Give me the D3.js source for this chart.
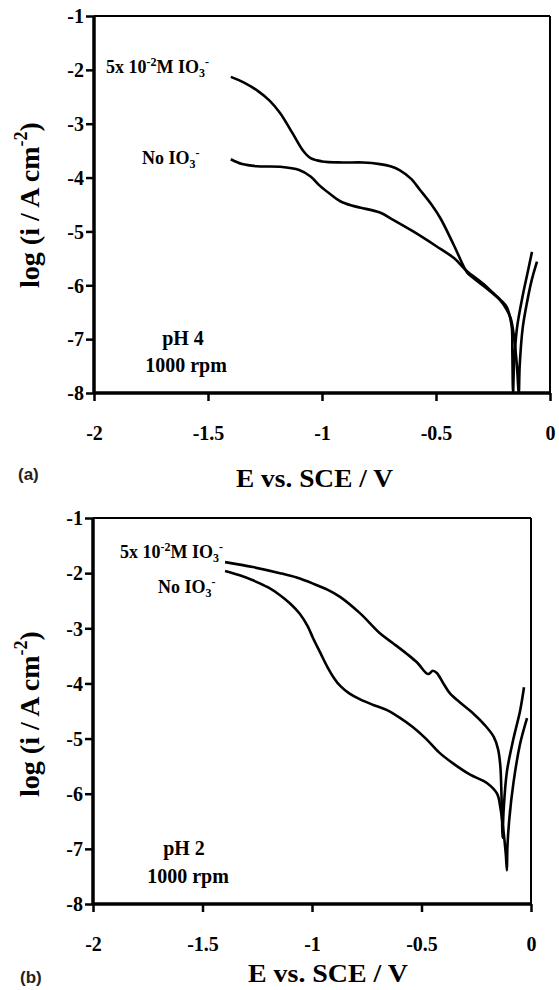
<!DOCTYPE html>
<html><head><meta charset="utf-8">
<script src="https://cdn.jsdelivr.net/npm/d3@7"></script>
<style>body{margin:0;background:#fff} text{font-family:'Liberation Serif','Times New Roman',serif;font-weight:bold;fill:#000}</style>
</head><body>
<svg id="c" width="559" height="990" xmlns="http://www.w3.org/2000/svg"></svg>
<script>
// ---- data ----
const xTicks = [-2, -1.5, -1, -0.5, 0];
const xTickLabels = ["-2", "-1.5", "-1", "-0.5", "0"];
const yTicks = [-1, -2, -3, -4, -5, -6, -7, -8];
const yTickLabels = ["-1", "-2", "-3", "-4", "-5", "-6", "-7", "-8"];

// panel (a) pH 4 : [E (V vs SCE), log i]
const pH4_iodate = [[-1.40,-2.13],[-1.34,-2.24],[-1.285,-2.38],[-1.23,-2.57],[-1.184,-2.80],[-1.13,-3.17],[-1.083,-3.50],[-1.05,-3.64],[-1.00,-3.70],[-0.91,-3.72],[-0.82,-3.72],[-0.746,-3.75],[-0.70,-3.79],[-0.66,-3.86],[-0.61,-4.02],[-0.57,-4.23],[-0.52,-4.50],[-0.48,-4.76],[-0.42,-5.27],[-0.364,-5.76],[-0.338,-5.86],[-0.28,-6.05],[-0.22,-6.27],[-0.19,-6.45],[-0.172,-6.62],[-0.158,-6.95],[-0.145,-7.5],[-0.137,-8.0],[-0.133,-7.5],[-0.12,-6.8],[-0.10,-6.3],[-0.08,-5.9],[-0.057,-5.56]];
const pH4_none = [[-1.40,-3.66],[-1.35,-3.75],[-1.285,-3.79],[-1.184,-3.80],[-1.10,-3.86],[-1.05,-3.98],[-1.01,-4.15],[-0.96,-4.32],[-0.92,-4.44],[-0.87,-4.52],[-0.83,-4.56],[-0.746,-4.65],[-0.69,-4.78],[-0.60,-5.00],[-0.50,-5.27],[-0.42,-5.50],[-0.364,-5.74],[-0.30,-5.95],[-0.25,-6.14],[-0.21,-6.30],[-0.19,-6.40],[-0.175,-6.60],[-0.167,-6.80],[-0.165,-7.3],[-0.162,-8.0],[-0.158,-7.5],[-0.145,-6.8],[-0.12,-6.2],[-0.10,-5.8],[-0.079,-5.38]];

// panel (b) pH 2
const pH2_iodate = [[-1.397,-1.80],[-1.27,-1.89],[-1.146,-2.00],[-1.07,-2.08],[-0.995,-2.19],[-0.93,-2.30],[-0.872,-2.43],[-0.78,-2.73],[-0.69,-3.09],[-0.63,-3.27],[-0.568,-3.46],[-0.52,-3.62],[-0.47,-3.83],[-0.448,-3.77],[-0.43,-3.81],[-0.40,-4.00],[-0.37,-4.18],[-0.32,-4.36],[-0.265,-4.54],[-0.21,-4.76],[-0.17,-4.97],[-0.15,-5.20],[-0.14,-5.50],[-0.135,-6.00],[-0.132,-6.50],[-0.13,-6.80],[-0.125,-6.30],[-0.11,-5.60],[-0.08,-5.00],[-0.05,-4.50],[-0.032,-4.07]];
const pH2_none = [[-1.397,-1.96],[-1.33,-2.04],[-1.27,-2.13],[-1.20,-2.26],[-1.146,-2.40],[-1.10,-2.55],[-1.055,-2.74],[-1.02,-2.96],[-0.995,-3.18],[-0.96,-3.46],[-0.93,-3.70],[-0.90,-3.90],[-0.87,-4.05],[-0.83,-4.18],[-0.78,-4.29],[-0.72,-4.39],[-0.66,-4.48],[-0.60,-4.62],[-0.54,-4.79],[-0.48,-5.00],[-0.42,-5.25],[-0.356,-5.45],[-0.28,-5.65],[-0.20,-5.81],[-0.155,-6.00],[-0.14,-6.25],[-0.125,-6.70],[-0.115,-7.10],[-0.11,-7.39],[-0.108,-7.00],[-0.10,-6.50],[-0.08,-5.80],[-0.05,-5.10],[-0.018,-4.63]];

const panels = [
  {box:{x0:94,x1:550,y0:16,y1:393}, series:[pH4_iodate,pH4_none],
   lblIo3:{x:106,y:73}, lblNo:{x:142,y:164}, ph:"pH 4", phPos:{x:183,y:345}, rpm:{x:186,y:372},
   tag:"(a)", tagPos:{x:18,y:480}, title:{x:236,y:487,len:157}, ytitle:{x:39,y:205}},
  {box:{x0:93,x1:531,y0:518,y1:904}, series:[pH2_iodate,pH2_none],
   lblIo3:{x:120,y:558}, lblNo:{x:158,y:593}, ph:"pH 2", phPos:{x:184,y:855}, rpm:{x:188,y:883},
   tag:"(b)", tagPos:{x:20,y:983}, title:{x:248,y:982,len:160}, ytitle:{x:39,y:714}}
];

const svg = d3.select("#c");

panels.forEach((p,i) => {
  const b = p.box;
  const x = d3.scaleLinear().domain([-2,0]).range([b.x0,b.x1]);
  const y = d3.scaleLinear().domain([-8,-1]).range([b.y1,b.y0]);
  const g = svg.append("g");

  const clipId = "clip"+i;
  svg.append("clipPath").attr("id",clipId).append("rect")
    .attr("x",b.x0).attr("y",b.y0).attr("width",b.x1-b.x0).attr("height",b.y1-b.y0);

  // frame top & right (thin)
  g.append("line").attr("x1",b.x0).attr("x2",b.x1).attr("y1",b.y0).attr("y2",b.y0).attr("stroke","#000").attr("stroke-width",2);
  g.append("line").attr("x1",b.x1).attr("x2",b.x1).attr("y1",b.y0).attr("y2",b.y1).attr("stroke","#000").attr("stroke-width",2);

  // axes
  const xAxis = d3.axisBottom(x).tickValues(xTicks).tickSize(8).tickFormat((d,k)=>xTickLabels[k]);
  const yAxis = d3.axisLeft(y).tickValues(yTicks).tickSize(8).tickFormat((d,k)=>yTickLabels[k]);
  const gx = g.append("g").attr("transform",`translate(0,${b.y1})`).call(xAxis);
  const gy = g.append("g").attr("transform",`translate(${b.x0},0)`).call(yAxis);
  [gx,gy].forEach(a=>{
    a.attr("font-family",null).attr("font-size",null);
    a.select(".domain").attr("stroke","#000").attr("stroke-width",3.5);
    a.selectAll(".tick line").attr("stroke","#000").attr("stroke-width",2.5);
    a.selectAll(".tick text").style("font-size","20px").style("font-weight","bold");
  });
  gx.select(".domain").attr("d",`M${b.x0},0H${b.x1}`);
  gy.select(".domain").attr("d",`M0,${b.y0}V${b.y1}`);
  gx.selectAll(".tick text").attr("y",null).attr("dy",null).attr("transform","translate(0,47)");
  gy.selectAll(".tick text").attr("x",-10).attr("dy","0.34em");

  // curves
  const line = d3.line().x(d=>x(d[0])).y(d=>y(d[1])).curve(d3.curveCatmullRom.alpha(0.5));
  p.series.forEach(s=>{
    g.append("path").attr("d",line(s)).attr("fill","none").attr("stroke","#000")
      .attr("stroke-width",2.6).attr("stroke-linejoin","round").attr("clip-path",`url(#${clipId})`);
  });

  // labels
  const t1 = g.append("text").attr("x",p.lblIo3.x).attr("y",p.lblIo3.y).style("font-size","18px");
  t1.append("tspan").text("5x 10");
  t1.append("tspan").style("font-size","12px").attr("dy",-7).text("-2");
  t1.append("tspan").attr("dy",7).text("M IO");
  t1.append("tspan").style("font-size","12px").attr("dy",4).text("3");
  t1.append("tspan").style("font-size","12px").attr("dy",-11).text("-");

  const t2 = g.append("text").attr("x",p.lblNo.x).attr("y",p.lblNo.y).style("font-size","18px");
  t2.append("tspan").text("No  IO");
  t2.append("tspan").style("font-size","12px").attr("dy",4).text("3");
  t2.append("tspan").style("font-size","12px").attr("dy",-11).text("-");

  g.append("text").attr("x",p.phPos.x).attr("y",p.phPos.y).attr("text-anchor","middle")
    .style("font-size","20px").text(p.ph);
  g.append("text").attr("x",p.rpm.x).attr("y",p.rpm.y).attr("text-anchor","middle")
    .style("font-size","20px").text("1000  rpm");

  // tag
  g.append("text").attr("x",p.tagPos.x).attr("y",p.tagPos.y)
    .style("font-family","'Liberation Sans',Arial,sans-serif")
    .style("font-size","17px").style("fill","#222").text(p.tag);

  // x title
  g.append("text").attr("x",p.title.x).attr("y",p.title.y).style("font-size","26px")
    .attr("textLength",p.title.len).attr("lengthAdjust","spacingAndGlyphs").text("E vs. SCE / V");

  // y title
  const yt = g.append("text").attr("transform",`translate(${p.ytitle.x},${p.ytitle.y}) rotate(-90)`)
    .attr("text-anchor","middle").style("font-size","28px");
  yt.append("tspan").text("log (i / A cm");
  yt.append("tspan").style("font-size","18px").attr("dy",-12).text("-2");
  yt.append("tspan").attr("dy",12).text(")");
});
</script>
</body></html>
